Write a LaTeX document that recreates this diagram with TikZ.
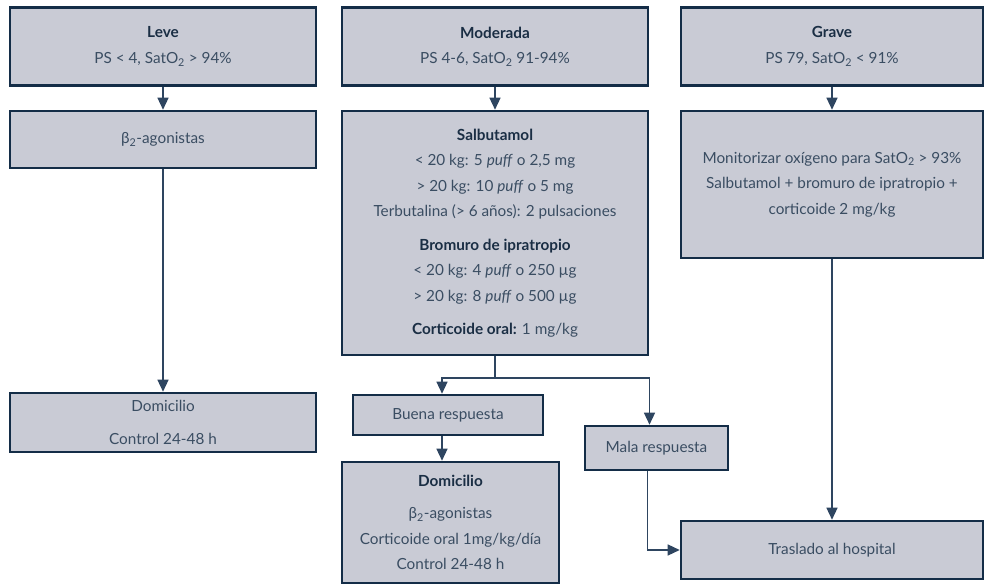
\documentclass[tikz,border=0pt]{standalone}
\usepackage{fontspec}
\setmainfont{Lato}
\usetikzlibrary{arrows.meta}
\definecolor{boxfill}{HTML}{C9CBD5}
\definecolor{boxline}{HTML}{142D47}
\definecolor{txt}{HTML}{3A4D62}
\definecolor{hdc}{HTML}{1A2E44}
\definecolor{conn}{HTML}{2E4560}
\newcommand{\headtxt}[1]{{\bfseries\color{hdc}#1}}
\tikzset{
  box/.style={draw=boxline, fill=boxfill, line width=2.6pt, inner sep=0pt,
    align=center, text=txt, font=\fontsize{15.3}{25.5}\selectfont},
  arr/.style={draw=conn, line width=1.4pt, -{Triangle[length=12pt,width=11pt]}},
  ln/.style={draw=conn, line width=1.4pt}
}
\begin{document}
\begin{tikzpicture}[x=1pt,y=-1pt]
\useasboundingbox (0,0) rectangle (985,585);
% column 1
\node[box, minimum width=306pt, minimum height=78pt] (leve) at (163,46.5)
  {\headtxt{Leve}\\PS < 4, SatO\textsubscript{2} > 94\%};
\node[box, minimum width=306pt, minimum height=57pt] (beta) at (163,139.5)
  {β\textsubscript{2}-agonistas};
\node[box, minimum width=306pt, minimum height=59pt] (dom1) at (163,422.5)
  {Domicilio\\[7pt]Control 24-48 h};
% column 2
\node[box, minimum width=306pt, minimum height=78pt] (mod) at (495,46.5)
  {\headtxt{Moderada}\\PS 4-6, SatO\textsubscript{2} 91-94\%};
\node[box, minimum width=306pt, minimum height=244pt] (salb) at (495,233)
  {\headtxt{Salbutamol}\\
   < 20 kg: 5 \textit{puff} o 2,5 mg\\
   > 20 kg: 10 \textit{puff} o 5 mg\\
   Terbutalina (> 6 años): 2 pulsaciones\\[8pt]
   \headtxt{Bromuro de ipratropio}\\
   < 20 kg: 4 \textit{puff} o 250 µg\\
   > 20 kg: 8 \textit{puff} o 500 µg\\[8pt]
   \headtxt{Corticoide oral:} 1 mg/kg};
\node[box, minimum width=190pt, minimum height=40pt] (buena) at (448,415)
  {Buena respuesta};
\node[box, minimum width=217pt, minimum height=121pt] (dom2) at (450.5,522.5)
  {\headtxt{Domicilio}\\[7pt]
   β\textsubscript{2}-agonistas\\
   Corticoide oral 1mg/kg/día\\
   Control 24-48 h};
\node[box, minimum width=143pt, minimum height=44pt] (mala) at (656.5,448)
  {Mala respuesta};
% column 3
\node[box, minimum width=302pt, minimum height=78pt] (grave) at (832,46.5)
  {\headtxt{Grave}\\PS 79, SatO\textsubscript{2} < 91\%};
\node[box, minimum width=302pt, minimum height=147pt] (moni) at (832,184.5)
  {Monitorizar oxígeno para SatO\textsubscript{2} > 93\%\\
   Salbutamol + bromuro de ipratropio +\\
   corticoide 2 mg/kg};
\node[box, minimum width=302pt, minimum height=58pt] (tras) at (832,550)
  {Traslado al hospital};
% connectors
\draw[arr] (leve) -- (beta);
\draw[arr] (beta) -- (dom1);
\draw[arr] (mod) -- (salb);
\draw[arr] (grave) -- (moni);
\draw[arr] (moni) -- (tras);
\coordinate (split) at (495,378);
\draw[ln] (salb.south) -- (split);
\draw[arr] (split) -| ([xshift=-6pt]buena.north);
\draw[arr] (split) -| ([xshift=-7pt]mala.north);
\draw[arr] ([xshift=-6pt]buena.south) -- ([xshift=-6pt]buena.south |- dom2.north);
\draw[arr] ([xshift=-9pt]mala.south) |- (tras.west);
\end{tikzpicture}
\end{document}
